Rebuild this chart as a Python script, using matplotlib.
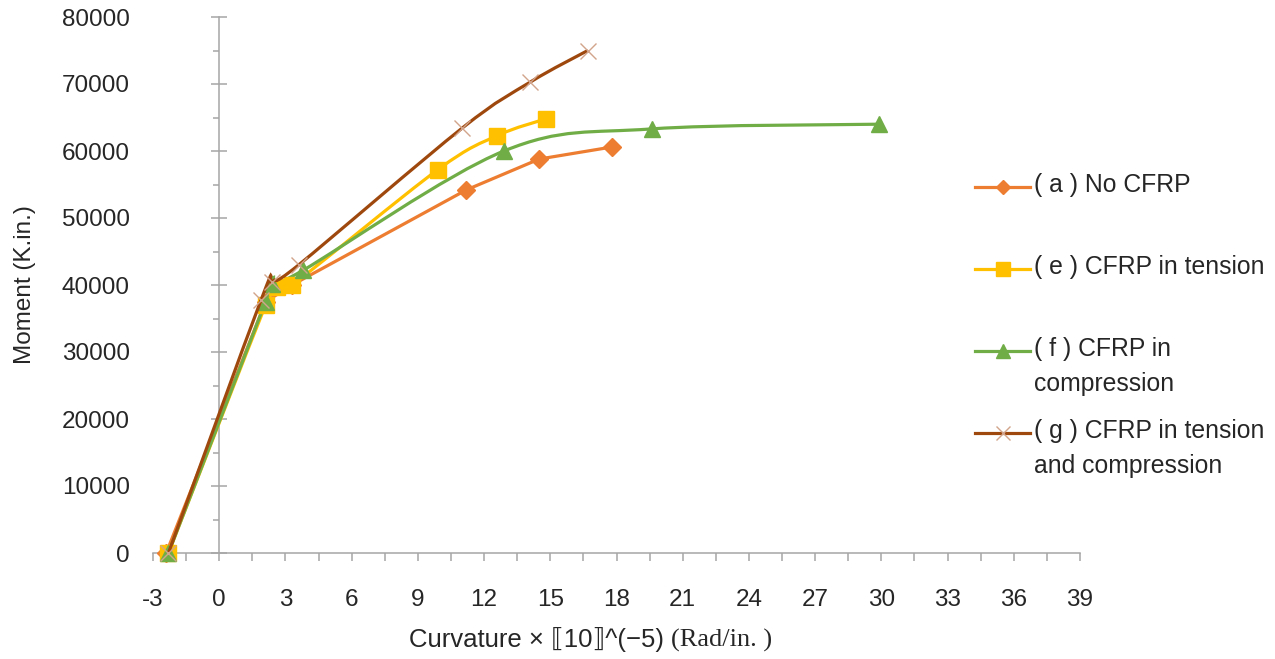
import numpy as np
import matplotlib
matplotlib.use("Agg")
from matplotlib import pyplot as plt
from matplotlib.path import Path
from matplotlib.patches import PathPatch
from matplotlib.lines import Line2D
from matplotlib.ticker import MultipleLocator

plt.rcParams["font.family"] = ["Liberation Sans", "DejaVu Sans"]

# curvature (x 1e-5 rad/in.) and moment (K.in.) for each beam
x_a = [-2.4, 2.1, 3.3, 11.2, 14.5, 17.8]
y_a = [0, 37500, 40000, 54200, 58800, 60600]

x_e = [-2.3, 2.1, 2.6, 3.3, 9.9, 12.6, 14.8]
y_e = [0, 37000, 39700, 40000, 57200, 62300, 64800]

x_f = [-2.3, 2.1, 2.4, 3.8, 12.9, 19.6, 29.9]
y_f = [0, 37500, 40200, 42200, 60000, 63300, 64000]

x_g = [-2.3, 1.9, 2.4, 3.6, 11.0, 14.1, 16.7]
y_g = [0, 37800, 40500, 43000, 63400, 70300, 75000]

labels = ["( a ) No CFRP", "( e ) CFRP in tension", "( f ) CFRP in\ncompression",
          "( g ) CFRP in tension\nand compression"]
colors = ["#ED7D31", "#FFC000", "#70AD47", "#9E480E"]

x_ticks = list(range(-3, 40, 3))
y_ticks = list(range(0, 80001, 10000))


def smooth_path(xs, ys):
    # Catmull-Rom style bezier through the points (like a spreadsheet "smoothed line")
    p = np.column_stack([xs, ys]).astype(float)
    n = len(p)
    verts = [p[0]]
    codes = [Path.MOVETO]
    for i in range(n - 1):
        p0 = p[i - 1] if i > 0 else p[i]
        p3 = p[i + 2] if i + 2 < n else p[i + 1]
        c1 = p[i] + (p[i + 1] - p0) / 6.0
        c2 = p[i + 1] - (p3 - p[i]) / 6.0
        verts += [c1, c2, p[i + 1]]
        codes += [Path.CURVE4] * 3
    return Path(verts, codes)


fig = plt.figure(figsize=(12.75, 6.59), dpi=100)
ax = fig.add_axes([153 / 1275, 1 - 553 / 659, (1080 - 153) / 1275, (553 - 17) / 659])
ax.set_xlim(-3, 39)
ax.set_ylim(0, 80000)

axis_col = "#A6A6A6"
for s in ["top", "right"]:
    ax.spines[s].set_visible(False)
ax.spines["left"].set_position(("data", 0))
ax.spines["left"].set_color(axis_col)
ax.spines["bottom"].set_color(axis_col)
ax.spines["left"].set_linewidth(1.1)
ax.spines["bottom"].set_linewidth(1.1)

ax.set_xticks(x_ticks)
ax.set_xticklabels([str(v) for v in x_ticks])
ax.set_yticks(y_ticks)
ax.set_yticklabels([str(v) for v in y_ticks])
ax.xaxis.set_minor_locator(MultipleLocator(1.5))
ax.yaxis.set_minor_locator(MultipleLocator(5000))
ax.tick_params(axis="x", which="both", direction="out", length=6, width=1.1,
               color=axis_col, labelsize=17.5, labelcolor="#262626", pad=20)
ax.tick_params(axis="y", which="major", direction="inout", length=11, width=1.1,
               color=axis_col, labelsize=17.5, labelcolor="#262626", pad=59)
ax.tick_params(axis="y", which="minor", direction="out", length=4.5, width=1.1,
               color=axis_col)

# orange series drawn with straight segments, the rest smoothed
ax.plot(x_a, y_a, color=colors[0], lw=2.3, marker="D", ms=9, clip_on=False, zorder=3)

for xs, ys, c, m, ms in [(x_e, y_e, colors[1], "s", 11), (x_f, y_f, colors[2], "^", 11)]:
    ax.add_patch(PathPatch(smooth_path(xs, ys), fill=False, edgecolor=c, lw=2.3,
                           zorder=3, clip_on=False))
    ax.plot(xs, ys, ls="none", marker=m, ms=ms, color=c, clip_on=False, zorder=4)

ax.add_patch(PathPatch(smooth_path(x_g, y_g), fill=False, edgecolor=colors[3], lw=2.3,
                       zorder=5, clip_on=False))
ax.plot(x_g, y_g, ls="none", marker="x", ms=11, mew=1.0, color="#D2A48C",
        clip_on=False, zorder=6)

fig.text(25 / 1275, 1 - 285 / 659, "Moment (K.in.)", rotation=90, ha="center",
         va="center", fontsize=17.5, color="#262626")

t1 = fig.text(671 / 1275, 1 - 640 / 659, "Curvature × ⟦10⟧^(−5) ", ha="right",
              va="center", fontsize=18.5, color="#262626")
ax.annotate("(Rad/in. )", xy=(1, 0.5), xycoords=t1, va="center", ha="left",
            fontsize=19, color="#262626", family=["Liberation Serif", "DejaVu Serif"])

# legend entries
leg_rows = [187, 269, 351, 433]
leg_marks = [("D", 7, colors[0]), ("s", 10, colors[1]), ("^", 10, colors[2]),
             ("x", 10, "#D2A48C")]
for row, lab, c, (m, ms, mc) in zip(leg_rows, labels, colors, leg_marks):
    yf = 1 - row / 659
    fig.add_artist(Line2D([975 / 1275, 1030 / 1275], [yf, yf], color=c, lw=2.3,
                          transform=fig.transFigure))
    fig.add_artist(Line2D([1002.5 / 1275], [yf], ls="none", marker=m, ms=ms, color=mc,
                          mew=1.0, transform=fig.transFigure))
    fig.text(1034 / 1275, yf + 14 / 659, lab, ha="left", va="top", fontsize=17.8,
             color="#262626", linespacing=1.6)

fig.savefig("out.png", dpi=100)
